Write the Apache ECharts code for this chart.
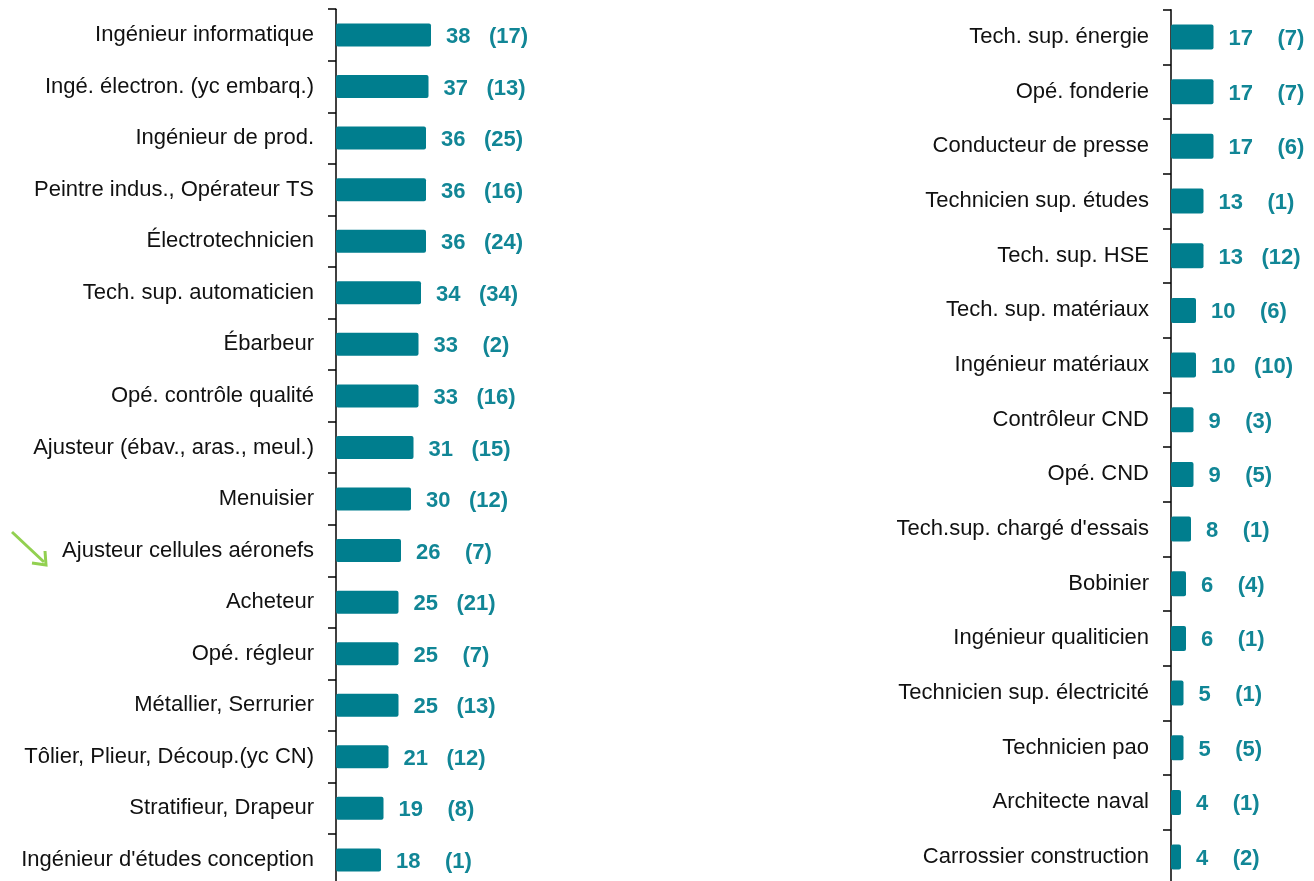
<!DOCTYPE html>
<html>
<head>
<meta charset="utf-8">
<script src="https://cdn.jsdelivr.net/npm/echarts@6/dist/echarts.min.js"></script>
<style>
  html, body { margin: 0; padding: 0; background: #fff; }
  #main { width: 1314px; height: 881px; }
</style>
</head>
<body>
<div id="main"></div>
<script>
// metiers - colonne de gauche
var leftCats = ['Ingénieur informatique', 'Ingé. électron. (yc embarq.)', 'Ingénieur de prod.',
  'Peintre indus., Opérateur TS', 'Électrotechnicien', 'Tech. sup. automaticien', 'Ébarbeur',
  'Opé. contrôle qualité', 'Ajusteur (ébav., aras., meul.)', 'Menuisier', 'Ajusteur cellules aéronefs',
  'Acheteur', 'Opé. régleur', 'Métallier, Serrurier', 'Tôlier, Plieur, Découp.(yc CN)',
  'Stratifieur, Drapeur', "Ingénieur d'études conception"];
var leftValues = [38, 37, 36, 36, 36, 34, 33, 33, 31, 30, 26, 25, 25, 25, 21, 19, 18];
var leftCounts = [17, 13, 25, 16, 24, 34, 2, 16, 15, 12, 7, 21, 7, 13, 12, 8, 1];

// colonne de droite
var rightCats = ['Tech. sup. énergie', 'Opé. fonderie', 'Conducteur de presse', 'Technicien sup. études',
  'Tech. sup. HSE', 'Tech. sup. matériaux', 'Ingénieur matériaux', 'Contrôleur CND', 'Opé. CND',
  "Tech.sup. chargé d'essais", 'Bobinier', 'Ingénieur qualiticien', 'Technicien sup. électricité',
  'Technicien pao', 'Architecte naval', 'Carrossier construction'];
var rightValues = [17, 17, 17, 13, 13, 10, 10, 9, 9, 8, 6, 6, 5, 5, 4, 4];
var rightCounts = [7, 7, 6, 1, 12, 6, 10, 3, 5, 1, 4, 1, 1, 5, 1, 2];

var barColor = '#007e8e';
var txtColor = '#118696';
var font = '"Liberation Sans", Arial, sans-serif';

var chart = echarts.init(document.getElementById('main'));

function catAxis(idx, cats) {
  return {
    type: 'category',
    gridIndex: idx,
    inverse: true,
    data: cats,
    axisLine: { show: true, lineStyle: { color: '#000', width: 1.5 } },
    axisTick: { show: true, length: 8, lineStyle: { color: '#000', width: 1.5 } },
    axisLabel: {
      margin: 22,
      color: '#111',
      fontSize: 22,
      fontFamily: font,
      padding: [4, 0, 0, 0]
    }
  };
}

function valAxis(idx, max) {
  return { type: 'value', gridIndex: idx, min: 0, max: max, show: false, splitLine: { show: false } };
}

function barSeries(idx, values, counts, width) {
  return {
    type: 'bar',
    xAxisIndex: idx,
    yAxisIndex: idx,
    barWidth: width,
    data: values,
    itemStyle: { color: barColor, borderRadius: 2 },
    label: {
      show: true,
      position: 'right',
      distance: 15,
      offset: [0, 2],
      formatter: function (p) {
        return '{v|' + p.value + '}{c|(' + counts[p.dataIndex] + ')}';
      },
      rich: {
        v: { fontSize: 22, fontWeight: 'bold', color: txtColor, fontFamily: font },
        c: { width: 76, align: 'center', fontSize: 22, fontWeight: 'bold', color: txtColor, fontFamily: font }
      }
    }
  };
}

chart.setOption({
  animation: false,
  grid: [
    { left: 336, top: 9.2, width: 250, height: 876.5, containLabel: false, outerBoundsMode: 'none' },
    { left: 1171, top: 9.7, width: 100, height: 874.7, containLabel: false, outerBoundsMode: 'none' }
  ],
  xAxis: [valAxis(0, 100), valAxis(1, 40)],
  yAxis: [catAxis(0, leftCats), catAxis(1, rightCats)],
  series: [
    barSeries(0, leftValues, leftCounts, 23),
    barSeries(1, rightValues, rightCounts, 25)
  ],
  graphic: [
    { type: 'line', shape: { x1: 12, y1: 532, x2: 44, y2: 562 }, style: { stroke: '#92d050', lineWidth: 3 } },
    { type: 'polyline', shape: { points: [[32, 563], [46, 565], [45, 551]] }, style: { stroke: '#92d050', lineWidth: 3, fill: null } }
  ]
});
</script>
</body>
</html>
